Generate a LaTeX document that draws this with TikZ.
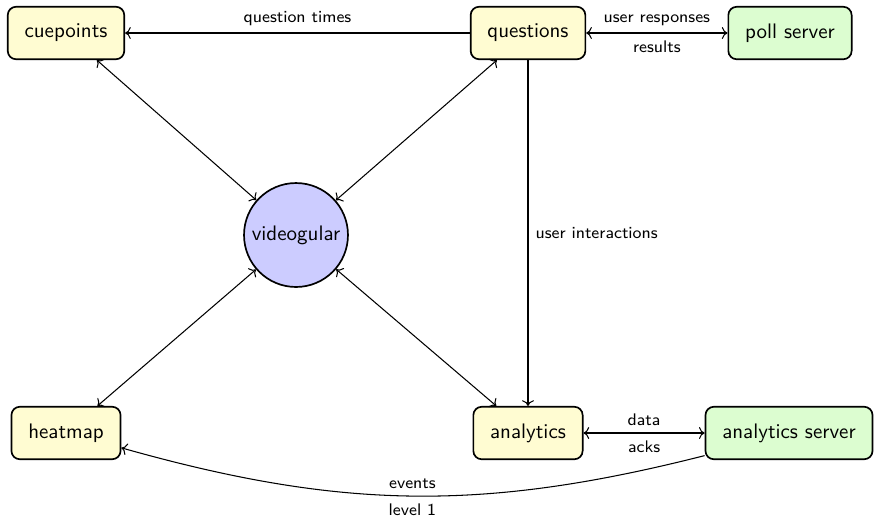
\documentclass[tikz,border=0pt]{standalone}
\usetikzlibrary{arrows.meta}
\definecolor{boxyellow}{HTML}{FFFCD2}
\definecolor{boxgreen}{HTML}{DCFDD0}
\definecolor{circblue}{HTML}{CCCCFF}
\begin{document}
\begin{tikzpicture}[x=0.47619pt,y=-0.47619pt,
  font=\sffamily,
  box/.style={draw, line width=0.8pt, rounded corners=4pt, inner xsep=8pt, minimum height=25pt},
  ybox/.style={box, fill=boxyellow},
  gbox/.style={box, fill=boxgreen},
  hub/.style={draw, circle, line width=0.8pt, fill=circblue, minimum size=49.5pt, inner sep=0pt},
  conn/.style={line width=0.5pt},
  lab/.style={font=\sffamily\footnotesize}]
\useasboundingbox (0,0) rectangle (887,522);
\node[ybox] (cue) at (66,33) {cuepoints};
\node[ybox] (q) at (528,33) {questions};
\node[gbox] (poll) at (790,33) {poll server};
\node[hub] (vg) at (296,235) {videogular};
\node[ybox] (heat) at (66,433) {heatmap};
\node[ybox] (ana) at (528,433) {analytics};
\node[gbox] (as) at (789,433) {analytics server};

\draw[conn,->] (q) -- node[lab,above]{question times} (cue);
\draw[conn,<->] (q) -- node[lab,above]{user responses} node[lab,below]{results} (poll);
\draw[conn,->] (q) -- node[lab,right,pos=0.5]{user interactions} (ana);
\draw[conn,<->] (cue) -- (vg);
\draw[conn,<->] (q) -- (vg);
\draw[conn,<->] (heat) -- (vg);
\draw[conn,<->] (ana) -- (vg);
\draw[conn,<->] (ana) -- node[lab,above]{data} node[lab,below]{acks} (as);
\draw[conn,->] (as) to[bend left=15] node[lab,above]{events} node[lab,below]{level 1} (heat);
\end{tikzpicture}
\end{document}
